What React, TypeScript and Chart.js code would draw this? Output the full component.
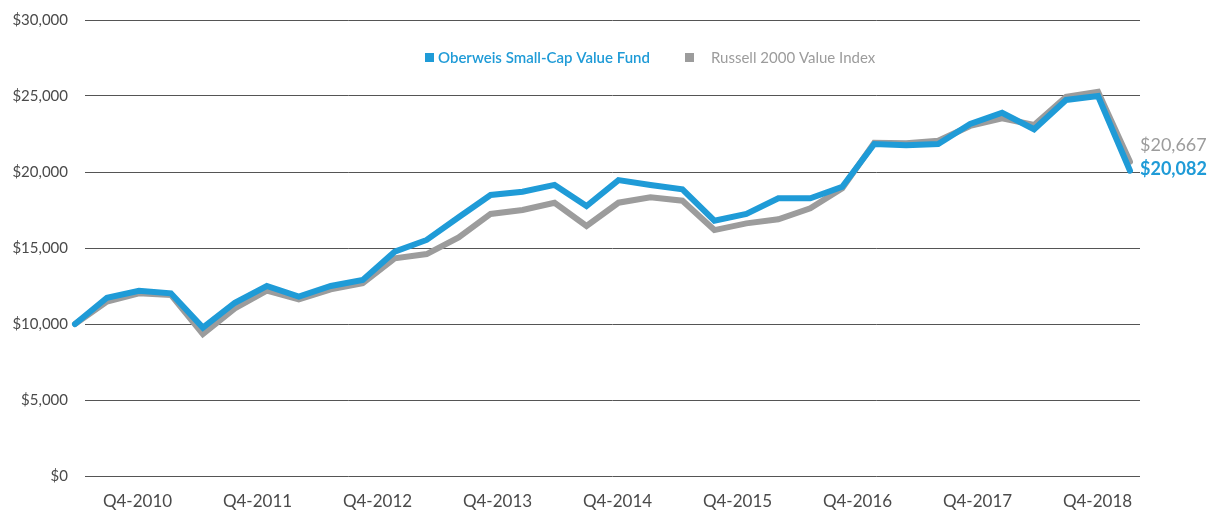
import React, { useEffect, useRef } from "react";
import { Chart, registerables } from "chart.js";

Chart.register(...registerables);

const fundName = "Oberweis Small-Cap Value Fund";
const indexName = "Russell 2000 Value Index";

const fundValues = [
  10000, 11730, 12190, 12020, 9760, 11400, 12500, 11800, 12500, 12900,
  14760, 15530, 17020, 18490, 18700, 19150, 17760, 19470, 19150, 18860,
  16800, 17240, 18270, 18270, 19030, 21840, 21760, 21840, 23160, 23900,
  22810, 24740, 25000, 20082,
];

const indexValues = [
  10000, 11470, 12020, 11910, 9340, 11030, 12190, 11620, 12280, 12680,
  14320, 14600, 15700, 17240, 17500, 17980, 16450, 17980, 18330, 18110,
  16180, 16620, 16890, 17610, 18930, 21930, 21890, 22060, 23030, 23530,
  23090, 24950, 25280, 20667,
];

const xTickLabels = [
  "Q4-2010", "Q4-2011", "Q4-2012", "Q4-2013", "Q4-2014",
  "Q4-2015", "Q4-2016", "Q4-2017", "Q4-2018",
];

const BLUE = "#1f9bd7";
const GRAY = "#9c9c9c";
const FONT = "Lato, 'Open Sans', sans-serif";

const fmt = (v: number) => "$" + Math.round(v).toLocaleString("en-US");

export default function App() {
  const ref = useRef<HTMLCanvasElement | null>(null);

  useEffect(() => {
    if (!ref.current) return;
    const n = fundValues.length;
    const xMin = 10 * (n - 1) / 1055;
    const xMax = xMin + (n - 1);
    const tickStart = 1.955;
    const tickStep = 3.7536;

    const overlay = {
      id: "overlay",
      afterDatasetsDraw(chart: any) {
        const ctx = chart.ctx;
        ctx.save();
        // legend
        ctx.textBaseline = "middle";
        ctx.textAlign = "left";
        ctx.font = `600 15px ${FONT}`;
        ctx.fillStyle = BLUE;
        ctx.fillRect(425, 53, 9, 9);
        ctx.fillText(fundName, 438, 58);
        ctx.font = `400 15px ${FONT}`;
        ctx.fillStyle = GRAY;
        ctx.fillRect(685, 53, 9, 9);
        ctx.fillText(indexName, 711, 58);
        // end labels
        const m0 = chart.getDatasetMeta(0).data[n - 1];
        const m1 = chart.getDatasetMeta(1).data[n - 1];
        ctx.font = `400 18px ${FONT}`;
        ctx.fillStyle = GRAY;
        ctx.fillText(fmt(indexValues[n - 1]), m1.x + 10, m1.y - 17);
        ctx.font = `700 18px ${FONT}`;
        ctx.fillStyle = BLUE;
        ctx.fillText(fmt(fundValues[n - 1]), m0.x + 10, m0.y - 2);
        ctx.restore();
      },
    };

    const chart = new Chart(ref.current, {
      type: "line",
      data: {
        datasets: [
          {
            label: fundName,
            data: fundValues.map((v, i) => ({ x: i, y: v })),
            borderColor: BLUE,
            backgroundColor: BLUE,
            borderWidth: 6,
            pointRadius: 0,
            tension: 0,
            clip: false as any,
            borderCapStyle: "round",
          },
          {
            label: indexName,
            data: indexValues.map((v, i) => ({ x: i, y: v })),
            borderColor: GRAY,
            backgroundColor: GRAY,
            borderWidth: 6,
            pointRadius: 0,
            tension: 0,
            clip: false as any,
            borderCapStyle: "round",
          },
        ],
      },
      options: {
        animation: false,
        responsive: false,
        maintainAspectRatio: false,
        layout: { padding: { left: 0, right: 77, top: 20, bottom: 0 } },
        plugins: {
          legend: { display: false },
          tooltip: { enabled: false },
        },
        scales: {
          x: {
            type: "linear",
            min: xMin,
            max: xMax,
            grid: { display: false, drawTicks: false },
            border: { display: false },
            afterBuildTicks: (scale: any) => {
              scale.ticks = xTickLabels.map((_, i) => ({ value: tickStart + i * tickStep }));
            },
            afterFit: (scale: any) => {
              scale.height = 34;
              scale.paddingLeft = 0;
              scale.paddingRight = 0;
            },
            ticks: {
              autoSkip: false,
              maxRotation: 0,
              padding: 15,
              color: "#4a4a4a",
              font: { family: FONT, size: 17 },
              callback: (_v: any, i: number) => xTickLabels[i],
            },
          },
          y: {
            min: 0,
            max: 30000,
            grid: { color: "#555555", lineWidth: 1, drawTicks: false },
            border: { display: false },
            afterFit: (scale: any) => {
              scale.width = 85;
              scale.paddingTop = 0;
              scale.paddingBottom = 0;
            },
            ticks: {
              stepSize: 5000,
              padding: 17,
              color: "#4a4a4a",
              font: { family: FONT, size: 15 },
              callback: (v: any) => fmt(Number(v)),
            },
          },
        },
      },
      plugins: [overlay],
    });
    return () => chart.destroy();
  }, []);

  return (
    <div style={{ position: "fixed", left: 0, top: 0, width: 1217, height: 510, background: "#fff" }}>
      <canvas ref={ref} width={1217} height={510} style={{ width: 1217, height: 510 }} />
    </div>
  );
}
